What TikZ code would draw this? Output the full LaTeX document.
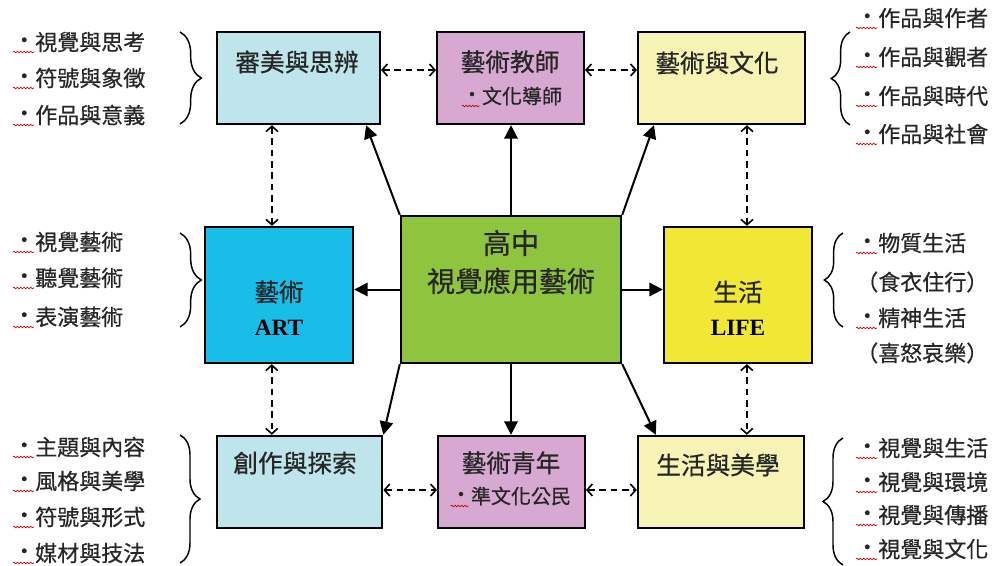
\documentclass[tikz,border=0pt]{standalone}
\usepackage{fontspec}
\setmainfont[FakeBold=0.6]{Noto Sans CJK TC}
\newfontfamily\latinserif{Liberation Serif}
\usetikzlibrary{arrows.meta,calc,decorations.pathreplacing,decorations.pathmorphing}

\definecolor{paleblue}{RGB}{190,228,236}
\definecolor{palepink}{RGB}{215,168,210}
\definecolor{paleyellow}{RGB}{247,243,180}
\definecolor{artblue}{RGB}{24,190,232}
\definecolor{coregreen}{RGB}{143,196,62}
\definecolor{lifeyellow}{RGB}{240,232,52}
\definecolor{ink}{RGB}{38,38,38}

\newcommand{\itemdot}{\raisebox{0.1em}{・}}

\begin{document}
\begin{tikzpicture}[x=0.75pt, y=-0.75pt,
    box/.style={draw=black, line width=1.8pt, inner sep=0pt},
    title/.style={text=ink, inner sep=0pt, font=\fontsize{18.5}{20}\selectfont},
    sub/.style={text=ink, inner sep=0pt, font=\fontsize{15}{17}\selectfont},
    eng/.style={text=black, inner sep=0pt, font=\latinserif\bfseries\fontsize{17.5}{19}\selectfont},
    item/.style={anchor=west, text=ink, inner sep=0pt, font=\fontsize{16.5}{18}\selectfont},
    push/.style={line width=1.5pt, -{Triangle[length=10pt,width=10pt]}},
    link/.style={line width=1.2pt, dash pattern=on 5pt off 3.5pt,
      {Straight Barb[length=4pt,width=9pt]}-{Straight Barb[length=4pt,width=9pt]}},
    curly/.style={line width=1.1pt, decorate, decoration={brace, amplitude=#1}},
    squiggle/.style={draw=red!80!black, line width=0.5pt, decorate,
      decoration={snake, segment length=2.5pt, amplitude=0.6pt}}]

  \useasboundingbox (0,0) rectangle (993,565);

  % Boxes
  \node[box, fill=paleblue, minimum width=122pt, minimum height=69pt] (aesth) at (298.5,78) {};
  \node[box, fill=palepink, minimum width=110pt, minimum height=69pt] (teacher) at (510.5,78) {};
  \node[box, fill=paleyellow, minimum width=125pt, minimum height=69pt] (culture) at (721.5,78) {};
  \node[box, fill=artblue, minimum width=111pt, minimum height=102pt] (art) at (279,295) {};
  \node[box, fill=coregreen, minimum width=165pt, minimum height=110pt] (core) at (511,289.5) {};
  \node[box, fill=lifeyellow, minimum width=111pt, minimum height=102pt] (life) at (738,295) {};
  \node[box, fill=paleblue, minimum width=124pt, minimum height=69pt] (create) at (299.5,482) {};
  \node[box, fill=palepink, minimum width=110pt, minimum height=69pt] (teen) at (511.5,482) {};
  \node[box, fill=paleyellow, minimum width=124.5pt, minimum height=69pt] (lifeart) at (721,482) {};

  % Box texts
  \node[title] (aesthT) at (297,62) {審美與思辨};
  \node[title] (teacherT) at (510,62) {藝術教師};
  \node[sub] (teacherS) at (512,96) {\itemdot 文化導師};
  \node[title] (cultureT) at (717,63) {藝術與文化};
  \node[title] (artT) at (279,292) {藝術};
  \node[eng] (artE) at (279,328) {ART};
  \node[title, font=\fontsize{21}{23}\selectfont] (coreT) at (511,243) {高中};
  \node[title, font=\fontsize{21}{23}\selectfont] (coreS) at (511,281) {視覺應用藝術};
  \node[title] (lifeT) at (738,292) {生活};
  \node[eng] (lifeE) at (738,328) {LIFE};
  \node[title] (createT) at (295,463) {創作與探索};
  \node[title] (teenT) at (511,463) {藝術青年};
  \node[sub] (teenS) at (511,496) {\itemdot 準文化公民};
  \node[title] (lifeartT) at (718,465) {生活與美學};

  % Solid arrows from the core
  \draw[push] (core.north west) -- ($(aesth.south east)+(-15,0)$);
  \draw[push] (core.north) -- (core.north |- teacher.south);
  \draw[push] (core.north east) -- ($(culture.south west)+(17,0)$);
  \draw[push] (core.west) -- (core.west -| art.east);
  \draw[push] (core.east) -- (core.east -| life.west);
  \draw[push] (core.south west) -- (create.north east);
  \draw[push] (core.south) -- (core.south |- teen.north);
  \draw[push] (core.south east) -- ($(lifeart.north west)+(19,0)$);

  % Dashed links
  \coordinate (a1) at ($(aesth.south west)+(56,0)$);
  \coordinate (a2) at ($(art.south west)+(68,0)$);
  \coordinate (c1) at ($(culture.south west)+(110,0)$);
  \coordinate (c2) at ($(life.south west)+(84,0)$);
  \coordinate (h1) at ($(aesth.east)+(0,-8)$);
  \coordinate (h2) at ($(teacher.east)+(0,-8)$);
  \coordinate (h3) at ($(create.east)+(0,8)$);
  \coordinate (h4) at ($(teen.east)+(0,8)$);
  \draw[link] (a1) -- (a1 |- art.north);
  \draw[link] (a2) -- (a2 |- create.north);
  \draw[link] (c1) -- (c1 |- life.north);
  \draw[link] (c2) -- (c2 |- lifeart.north);
  \draw[link] (h1) -- (h1 -| teacher.west);
  \draw[link] (h2) -- (h2 -| culture.west);
  \draw[link] (h3) -- (h3 -| teen.west);
  \draw[link] (h4) -- (h4 -| lifeart.west);

  % Lists on the left
  \node[item] (tl1) at (13,42) {\itemdot 視覺與思考};
  \node[item] (tl2) at (13,78) {\itemdot 符號與象徵};
  \node[item] (tl3) at (13,115) {\itemdot 作品與意義};
  \node[item] (ml1) at (13,242) {\itemdot 視覺藝術};
  \node[item] (ml2) at (13,278) {\itemdot 聽覺藝術};
  \node[item] (ml3) at (13,317) {\itemdot 表演藝術};
  \node[item] (bl1) at (13,447) {\itemdot 主題與內容};
  \node[item] (bl2) at (13,481) {\itemdot 風格與美學};
  \node[item] (bl3) at (13,517) {\itemdot 符號與形式};
  \node[item] (bl4) at (13,553) {\itemdot 媒材與技法};

  % Lists on the right
  \node[item] (tr1) at (856,18) {\itemdot 作品與作者};
  \node[item] (tr2) at (856,57) {\itemdot 作品與觀者};
  \node[item] (tr3) at (856,96) {\itemdot 作品與時代};
  \node[item] (tr4) at (856,134) {\itemdot 作品與社會};
  \node[item] (mr1) at (856,243) {\itemdot 物質生活};
  \node[item] (mr2) at (856,282) {（食衣住行）};
  \node[item] (mr3) at (856,318) {\itemdot 精神生活};
  \node[item] (mr4) at (856,353) {（喜怒哀樂）};
  \node[item] (br1) at (856,448) {\itemdot 視覺與生活};
  \node[item] (br2) at (856,482) {\itemdot 視覺與環境};
  \node[item] (br3) at (856,515) {\itemdot 視覺與傳播};
  \node[item] (br4) at (856,549) {\itemdot 視覺與文化};

  % Braces
  \draw[curly=16pt] (180,32) -- (180,124);
  \draw[curly=16pt] (180,233) -- (180,327);
  \draw[curly=15pt] (180,435) -- (180,563);
  \draw[curly=14pt] (850,125) -- (850,32);
  \draw[curly=14pt] (843,327) -- (843,233);
  \draw[curly=15pt] (843,565) -- (843,438);

  % Spell-check marks under the bullets
  \foreach \n in {tl1,tl2,tl3,ml1,ml2,ml3,bl1,bl2,bl3,bl4,tr1,tr2,tr3,tr4,mr1,mr3,br1,br2,br3,br4}
    \draw[squiggle] ($(\n.west)+(0,10)$) -- +(21,0);
  \draw[squiggle] ($(teacherS.west)+(0,10)$) -- +(18,0);
  \draw[squiggle] ($(teenS.west)+(0,10)$) -- +(18,0);
\end{tikzpicture}
\end{document}
